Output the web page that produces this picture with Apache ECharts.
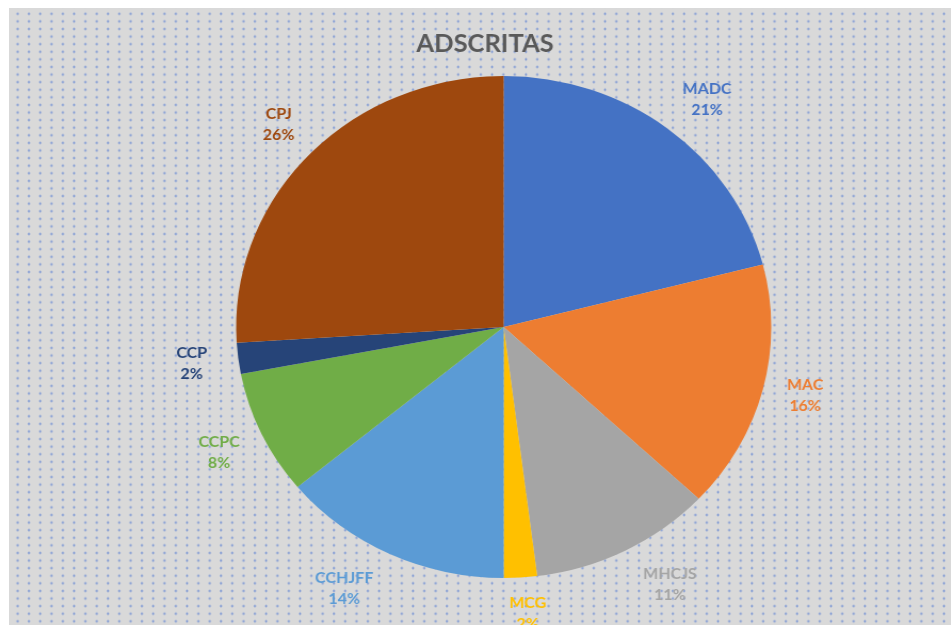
<!DOCTYPE html>
<html>
<head>
<meta charset="utf-8">
<script src="https://cdn.jsdelivr.net/npm/echarts@6/dist/echarts.min.js"></script>
<style>
  html, body { margin: 0; padding: 0; background: #ffffff; width: 951px; height: 625px; overflow: hidden; }
  #bg {
    position: absolute; left: 9px; top: 8px; width: 942px; height: 617px;
    background-color: #d9d9d9;
    background-image: radial-gradient(circle, rgba(80,120,210,0.5) 1px, rgba(80,120,210,0) 1.7px);
    background-size: 11.3px 7.6px;
    background-position: 3px 2px;
  }
  #chart {
    position: absolute; left: 0; top: 0; width: 892px; height: 625px;
    transform: scaleX(1.066); transform-origin: 0 0;
  }
</style>
</head>
<body>
<div id="bg"></div>
<div id="chart"></div>
<script>
const titleText = 'ADSCRITAS';
const categories = ['MADC', 'MAC', 'MHCJS', 'MCG', 'CCHJFF', 'CCPC', 'CCP', 'CPJ'];
const values = [21, 16, 11, 2, 14, 8, 2, 26];
const colors = ['#4472C4', '#ED7D31', '#A5A5A5', '#FFC000', '#5B9BD5', '#70AD47', '#264478', '#9E480E'];
// label nudges (styling only) to mimic the spreadsheet's label placement
const labelOffsets = { MADC: [10, 6], MAC: [-3, -5], MHCJS: [22, -5], CCHJFF: [-24, -5], MCG: [4, -8], CPJ: [4, 0] };

const center = [472.5, 327];
const pieData = categories.map((c, i) => ({
  name: c, value: values[i], itemStyle: { color: colors[i] }
}));
const labelData = categories.map((c, i) => ({
  name: c, value: values[i],
  label: { color: colors[i], offset: labelOffsets[c] || [0, 0] }
}));

const chart = echarts.init(document.getElementById('chart'), null, { renderer: 'canvas' });
chart.setOption({
  backgroundColor: 'transparent',
  animation: false,
  color: colors,
  title: {
    text: titleText, left: 450, top: 27, textAlign: 'center',
    textStyle: { fontFamily: 'Lato, "Open Sans", sans-serif', fontWeight: 'bold', fontSize: 24, color: '#595959' }
  },
  series: [
    {
      type: 'pie', center: center, radius: [0, 251], startAngle: 90, clockwise: true,
      data: pieData, label: { show: false }, labelLine: { show: false },
      itemStyle: { borderWidth: 0 }, silent: true
    },
    {
      type: 'pie', center: center, radius: [270, 314], startAngle: 90, clockwise: true,
      data: labelData, silent: true,
      itemStyle: { color: 'transparent', borderWidth: 0 },
      labelLine: { show: false },
      label: {
        show: true, position: 'inside', rotate: 0,
        formatter: p => p.name + '\n' + p.value + '%',
        fontFamily: 'Lato, "Open Sans", sans-serif', fontWeight: 'bold', fontSize: 15,
        lineHeight: 21, align: 'center'
      }
    }
  ]
});
</script>
</body>
</html>
